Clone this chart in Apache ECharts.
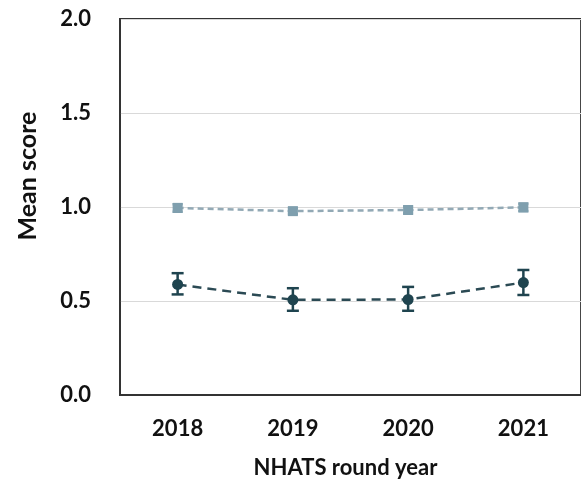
<!DOCTYPE html>
<html>
<head>
<meta charset="utf-8">
<script src="https://cdn.jsdelivr.net/npm/echarts@6/dist/echarts.min.js"></script>
<style>
  html, body { margin: 0; padding: 0; background: #fff; }
  #main { width: 581px; height: 484px; }
</style>
</head>
<body>
<div id="main"></div>
<script>
// 数据
const years = ['2018', '2019', '2020', '2021'];
const upperMean = [0.995, 0.978, 0.984, 0.998];
const upperLow = [0.975, 0.962, 0.966, 0.978];
const upperHigh = [1.015, 0.994, 1.002, 1.018];
const lowerMean = [0.588, 0.506, 0.508, 0.598];
const lowerLow = [0.535, 0.448, 0.448, 0.532];
const lowerHigh = [0.648, 0.568, 0.575, 0.665];
const yTicks = ['0.0', '0.5', '1.0', '1.5', '2.0'];

const upperColor = '#7f9fae';
const lowerColor = '#1f444f';

// 误差线
function errorSeries(low, high, color, capW) {
    return {
        type: 'custom',
        z: 3,
        data: years.map((y, i) => [i, low[i], high[i]]),
        renderItem: function (params, api) {
            const x = api.coord([api.value(0), api.value(1)])[0];
            const yLo = api.coord([api.value(0), api.value(1)])[1];
            const yHi = api.coord([api.value(0), api.value(2)])[1];
            const style = { stroke: color, lineWidth: 2.5 };
            return {
                type: 'group',
                children: [
                    { type: 'line', shape: { x1: x, y1: yLo, x2: x, y2: yHi }, style: style },
                    { type: 'line', shape: { x1: x - capW, y1: yLo, x2: x + capW, y2: yLo }, style: style },
                    { type: 'line', shape: { x1: x - capW, y1: yHi, x2: x + capW, y2: yHi }, style: style }
                ]
            };
        }
    };
}

const chart = echarts.init(document.getElementById('main'));
const font = 'Lato, "Open Sans", sans-serif';

chart.setOption({
    animation: false,
    grid: {
        left: 120, top: 19, width: 464, bottom: 87,
        show: true, borderColor: '#333', borderWidth: 1.8
    },
    xAxis: {
        type: 'category',
        data: years,
        boundaryGap: true,
        axisLine: { lineStyle: { color: '#333', width: 1.8 } },
        axisTick: { show: false },
        axisLabel: { color: '#111', fontSize: 22, fontWeight: 'bold', fontFamily: font, margin: 23 },
        name: 'NHATS round year',
        nameLocation: 'middle',
        nameGap: 62,
        nameTextStyle: { color: '#111', fontSize: 22, fontWeight: 'bold', fontFamily: font, padding: [0, 0, 0, -10] }
    },
    yAxis: {
        type: 'value',
        min: 0, max: 2, interval: 0.5,
        axisLine: { show: true, lineStyle: { color: '#333', width: 1.8 } },
        axisTick: { show: false },
        splitLine: { lineStyle: { color: '#d9d9d9', width: 1 } },
        axisLabel: {
            color: '#111', fontSize: 22, fontWeight: 'bold', fontFamily: font, margin: 29,
            formatter: function (v) { return yTicks[Math.round(v / 0.5)]; }
        },
        name: 'Mean score',
        nameLocation: 'middle',
        nameGap: 80,
        nameTextStyle: { color: '#111', fontSize: 25, fontWeight: 'bold', fontFamily: font, padding: [0, 0, 0, 62] }
    },
    series: [
        errorSeries(upperLow, upperHigh, upperColor, 5),
        errorSeries(lowerLow, lowerHigh, lowerColor, 6),
        {
            type: 'line',
            data: upperMean,
            z: 4,
            symbol: 'rect',
            symbolSize: 10,
            itemStyle: { color: upperColor },
            lineStyle: { color: '#92a9b5', width: 2.5, type: [6, 4] }
        },
        {
            type: 'line',
            data: lowerMean,
            z: 4,
            symbol: 'circle',
            symbolSize: 11,
            itemStyle: { color: lowerColor },
            lineStyle: { color: '#2b4a54', width: 2.5, type: [9, 6] }
        }
    ]
});
</script>
</body>
</html>
